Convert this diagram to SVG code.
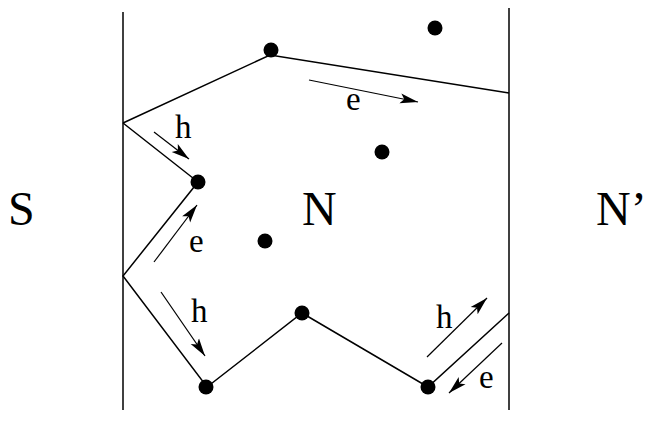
<svg xmlns="http://www.w3.org/2000/svg" width="647" height="422" viewBox="0 0 647 422">
<style>
.ln{stroke:#000;stroke-width:1.5;fill:none}
.wall{stroke:#000;stroke-width:1.5;fill:none}
.ar{stroke:#000;stroke-width:1.2;fill:none;marker-end:url(#ah)}
.dot{fill:#000}
.big{font-family:"Liberation Serif","Times New Roman",serif;font-size:48px;fill:#000}
.lbl{font-family:"Liberation Serif","Times New Roman",serif;font-size:33px;fill:#000}
</style>
<defs>
<marker id="ah" markerUnits="userSpaceOnUse" markerWidth="20" markerHeight="12" refX="18" refY="6" orient="auto">
<path d="M0,1 L18,6 L0,11 L4,6 Z" fill="#000"/>
</marker>
</defs>
<g id="walls">
<line class="wall" x1="123" y1="12" x2="123" y2="410"/>
<line class="wall" x1="509" y1="8" x2="509" y2="410"/>
</g>
<g id="connectors">
<polyline class="ln" points="123,123 270,55 509,93"/>
<polyline class="ln" points="123,123 198,182 123,276 207,387 302,313 428,387 509,313"/>
<line class="ar" x1="309" y1="80" x2="418" y2="102"/>
<line class="ar" x1="154" y1="132" x2="189" y2="159"/>
<line class="ar" x1="154" y1="262" x2="197" y2="205"/>
<line class="ar" x1="161" y1="292" x2="205" y2="356"/>
<line class="ar" x1="427" y1="357" x2="487" y2="298"/>
<line class="ar" x1="502" y1="343" x2="449" y2="393"/>
</g>
<g id="nodes">
<circle id="n1" class="dot" cx="271" cy="50" r="7.5"/>
<circle id="n2" class="dot" cx="435" cy="28" r="7.5"/>
<circle id="n3" class="dot" cx="382" cy="152" r="7.5"/>
<circle id="n4" class="dot" cx="198" cy="182" r="7.5"/>
<circle id="n5" class="dot" cx="265" cy="241" r="7.5"/>
<circle id="n6" class="dot" cx="302" cy="313" r="7.5"/>
<circle id="n7" class="dot" cx="206" cy="387" r="7.5"/>
<circle id="n8" class="dot" cx="428" cy="387" r="7.5"/>
</g>
<g id="labels">
<text class="big" x="8" y="225">S</text>
<text class="big" x="302" y="225">N</text>
<text class="big" x="596" y="225">N’</text>
<text class="lbl" x="175" y="138">h</text>
<text class="lbl" x="346" y="110">e</text>
<text class="lbl" x="189" y="252">e</text>
<text class="lbl" x="191" y="322">h</text>
<text class="lbl" x="436" y="328">h</text>
<text class="lbl" x="479" y="388">e</text>
</g>
</svg>
